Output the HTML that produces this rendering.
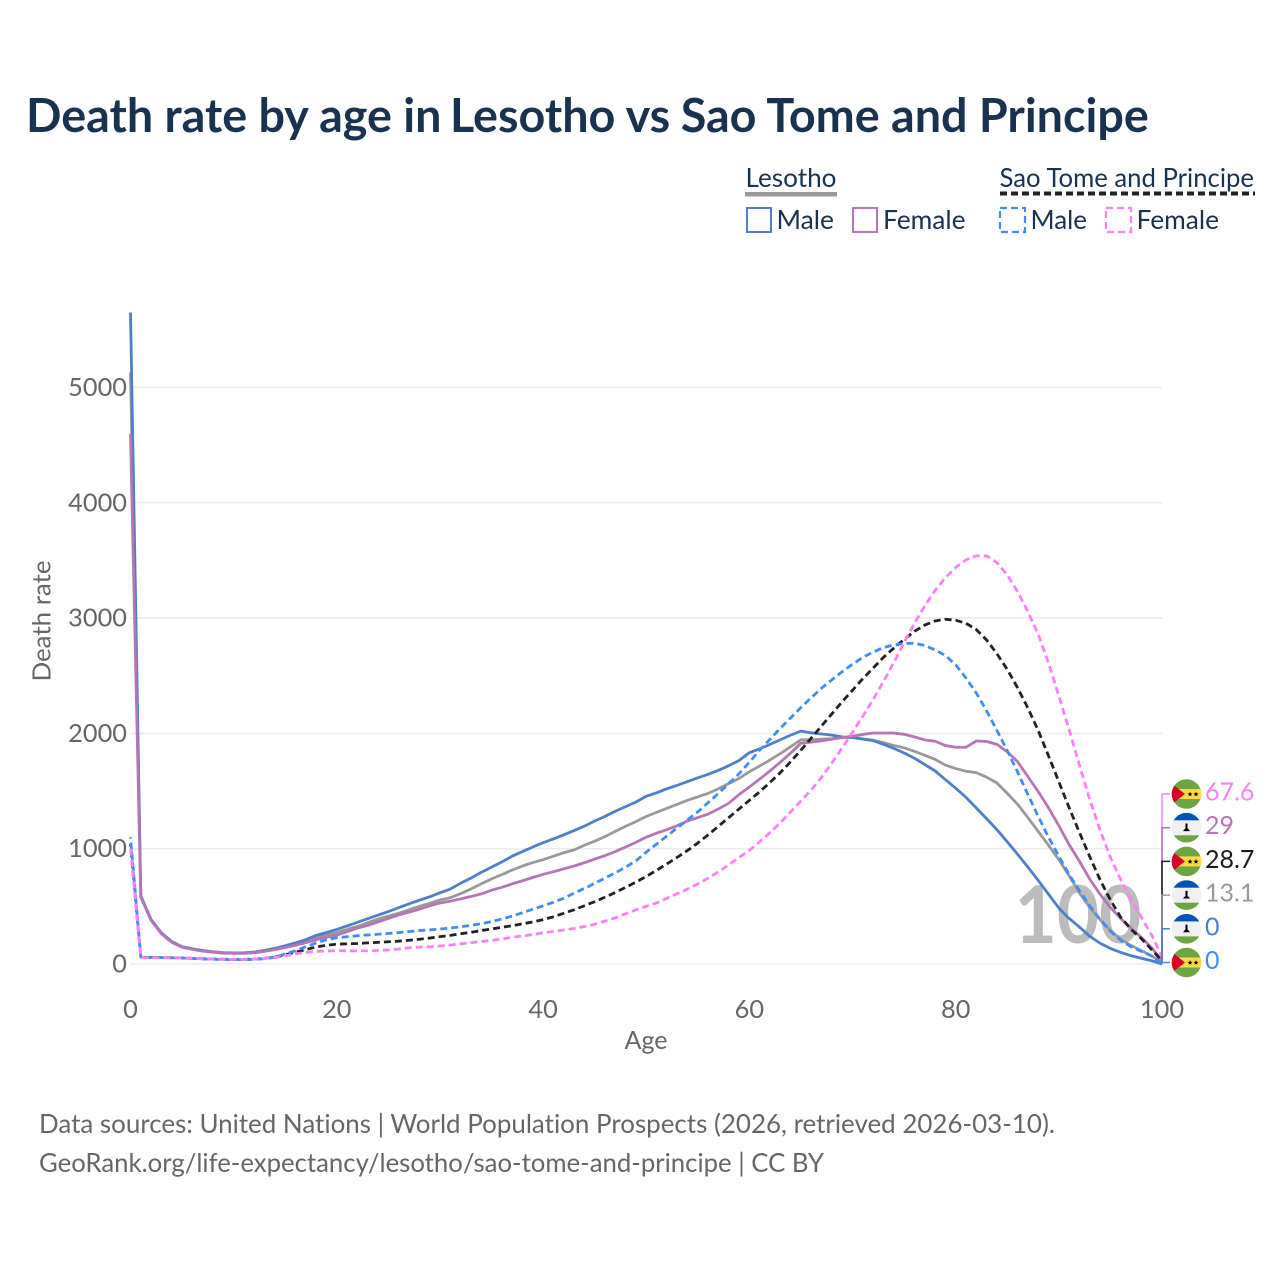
<!DOCTYPE html>
<html lang="en">
<head>
<meta charset="utf-8">
<title>Death rate by age in Lesotho vs Sao Tome and Principe</title>
<style>
html,body{margin:0;padding:0;background:#fff;}
svg{display:block;font-family:"Lato","Liberation Sans",sans-serif;font-variant-ligatures:none;}
</style>
</head>
<body>
<svg id="chart" xmlns="http://www.w3.org/2000/svg" width="1280" height="1280" viewBox="0 0 1280 1280">
  <defs>
    <clipPath id="flag-clip"><circle cx="0" cy="0" r="14.8"/></clipPath>
    <symbol id="flag-stp" overflow="visible" viewBox="-15 -15 30 30" width="30" height="30">
      <g clip-path="url(#flag-clip)">
        <rect x="-15" y="-15" width="30" height="30" fill="#6da544"/>
        <rect x="-15" y="-5" width="30" height="10" fill="#ffda44"/>
        <polygon points="-15,-10.5 -1.5,0 -15,10.5" fill="#d80027"/>
        <polygon points="3.5,-2.4 4.2,-0.6 6,-0.6 4.6,0.6 5.1,2.4 3.5,1.3 1.9,2.4 2.4,0.6 1,-0.6 2.8,-0.6" fill="#000"/>
        <polygon points="9.5,-2.4 10.2,-0.6 12,-0.6 10.6,0.6 11.1,2.4 9.5,1.3 7.9,2.4 8.4,0.6 7,-0.6 8.8,-0.6" fill="#000"/>
      </g>
    </symbol>
    <symbol id="flag-lesotho" overflow="visible" viewBox="-15 -15 30 30" width="30" height="30">
      <g clip-path="url(#flag-clip)">
        <rect x="-15" y="-15" width="30" height="30" fill="#f0f0f0"/>
        <rect x="-15" y="-15" width="30" height="7.6" fill="#0052b4"/>
        <rect x="-15" y="7.6" width="30" height="8" fill="#6da544"/>
        <path d="M-1,-4.2 H1 V0.6 L3.6,3.4 H-3.6 L-1,0.6 Z" fill="#000"/>
      </g>
    </symbol>
  </defs>

  <text y="132" font-size="46.7" font-weight="700" fill="#18324f"><tspan x="26">Death rate by age in </tspan><tspan x="450">Lesotho vs </tspan><tspan x="680.7">Sao Tome and Principe</tspan></text>

  <g>
    <g>
      <text x="745.5" y="187" font-size="26" fill="#18324f" textLength="91" lengthAdjust="spacingAndGlyphs">Lesotho</text>
      <rect x="745" y="192" width="92" height="4.5" fill="#999"/>
      <rect x="747" y="208" width="24" height="24" fill="none" stroke="#4e7fc8" stroke-width="2"/>
      <text x="776.5" y="229" font-size="26" fill="#18324f" textLength="57.5" lengthAdjust="spacingAndGlyphs">Male</text>
      <rect x="853" y="208" width="24" height="24" fill="none" stroke="#b576b3" stroke-width="2"/>
      <text x="883" y="229" font-size="26" fill="#18324f" textLength="82.5" lengthAdjust="spacingAndGlyphs">Female</text>
    </g>
    <g>
      <text x="999.5" y="187" font-size="26" fill="#18324f" textLength="254.5" lengthAdjust="spacingAndGlyphs">Sao Tome and Principe</text>
      <line x1="1000" y1="193.5" x2="1255" y2="193.5" stroke="#222" stroke-width="4" stroke-dasharray="7 4"/>
      <rect x="1000" y="208" width="25" height="24" fill="none" stroke="#3f8cff" stroke-width="2.2" stroke-dasharray="7 4"/>
      <text x="1030.5" y="229" font-size="26" fill="#18324f" textLength="56.5" lengthAdjust="spacingAndGlyphs">Male</text>
      <rect x="1106" y="208" width="25" height="24" fill="none" stroke="#ff80f4" stroke-width="2.2" stroke-dasharray="7 4"/>
      <text x="1136.5" y="229" font-size="26" fill="#18324f" textLength="82.5" lengthAdjust="spacingAndGlyphs">Female</text>
    </g>
  </g>

  <g id="grid"></g>
  <text x="1078" y="943" font-size="80" font-weight="700" fill="#bcbcbc" text-anchor="middle" textLength="127" lengthAdjust="spacingAndGlyphs">100</text>
  <g id="y-ticks"></g>
  <g id="x-ticks"></g>
  <text x="646" y="1049" font-size="25" fill="#666" text-anchor="middle" textLength="43" lengthAdjust="spacingAndGlyphs">Age</text>
  <text transform="translate(50.5,621) rotate(-90)" font-size="25" fill="#666" text-anchor="middle" textLength="121" lengthAdjust="spacingAndGlyphs">Death rate</text>
  <g id="lines"></g>
  <g id="end-labels"></g>

  <text x="39" y="1133" font-size="26" fill="#666" textLength="1016" lengthAdjust="spacingAndGlyphs">Data sources: United Nations | World Population Prospects (2026, retrieved 2026-03-10).</text>
  <text x="39" y="1172" font-size="26" fill="#666" textLength="785" lengthAdjust="spacingAndGlyphs">GeoRank.org/life-expectancy/lesotho/sao-tome-and-principe | CC BY</text>
</svg>
<script>
const xTickLabels = [0, 20, 40, 60, 80, 100];
const yTickLabels = [0, 1000, 2000, 3000, 4000, 5000];

const lesothoBoth = [5130,585,380,265,192,148,130,115,104,97,94,95,102,115,132,152,172,197,228,252,272,
300,325,358,390,415,440,470,500,525,555,575,610,650,695,738,775,815,850,880,
905,935,965,990,1030,1065,1105,1150,1195,1235,1280,1315,1350,1385,1420,1450,1480,1520,1565,1610,
1668,1717,1770,1825,1885,1945,1945,1950,1955,1962,1965,1952,1940,1920,1895,1875,1845,1810,1775,1725,
1695,1672,1660,1620,1570,1480,1385,1270,1150,1030,905,765,615,490,385,290,215,160,115,70,13.1];

const lesothoMale = [5650,590,385,270,195,150,132,117,106,99,96,97,104,118,136,158,183,212,248,273,300,
330,362,393,424,455,488,522,553,583,617,650,700,745,795,840,885,935,975,1015,
1052,1085,1120,1157,1195,1240,1280,1325,1365,1405,1455,1485,1520,1550,1582,1615,1645,1680,1720,1765,
1833,1866,1905,1945,1985,2020,2005,1995,1985,1970,1965,1950,1937,1905,1870,1830,1785,1730,1675,1600,
1525,1445,1353,1260,1165,1060,952,840,725,605,485,395,320,240,180,135,100,72,50,28,0];

const lesothoFemale = [4600,580,378,262,188,145,127,112,102,95,92,92,98,110,125,143,163,185,210,232,250,
280,312,335,365,395,425,450,475,505,529,545,565,585,608,640,665,695,722,750,
778,800,825,850,878,910,940,975,1015,1055,1100,1135,1165,1200,1240,1270,1300,1345,1395,1470,
1535,1604,1675,1750,1830,1915,1925,1935,1950,1965,1975,1990,2003,2003,2003,1992,1970,1943,1932,1895,
1880,1880,1935,1930,1905,1840,1755,1625,1495,1355,1200,1035,890,735,605,490,395,310,230,140,29];

const saoTomeBoth = [1040,58,57,56,54,52,49,46,43,41,40,40,43,49,60,80,103,125,148,162,172,
175,178,183,188,193,198,206,215,225,237,248,262,275,290,303,318,332,348,365,
385,410,440,470,505,540,580,620,665,710,760,812,868,925,985,1050,1120,1195,1270,1345,
1420,1494,1575,1660,1755,1855,1960,2065,2170,2275,2375,2475,2567,2660,2740,2815,2885,2940,2975,2990,
2982,2955,2900,2810,2690,2555,2395,2220,2025,1805,1580,1355,1140,930,730,555,405,300,220,125,28.7];

const saoTomeMale = [1100,60,58,56,54,52,48,44,41,39,38,38,40,46,58,87,115,150,183,210,228,
237,245,252,258,265,272,282,290,296,303,312,322,335,350,368,390,415,445,475,
505,535,570,615,655,700,745,790,840,895,970,1040,1110,1180,1250,1320,1400,1480,1565,1650,
1750,1855,1950,2045,2135,2225,2310,2393,2465,2535,2600,2660,2705,2745,2767,2780,2782,2762,2725,2675,
2595,2480,2350,2195,2025,1850,1665,1470,1280,1100,935,775,635,505,385,285,205,150,110,70,0];

const saoTomeFemale = [1000,56,55,54,53,51,49,46,43,41,40,40,43,48,56,72,88,100,110,113,115,
115,113,115,118,122,130,140,146,150,156,165,175,185,195,205,217,232,243,255,
270,282,295,308,325,345,372,400,435,470,500,530,570,610,650,695,745,800,860,925,
985,1061,1140,1225,1320,1415,1510,1620,1745,1875,2010,2150,2295,2450,2615,2790,2955,3105,3240,3350,
3440,3505,3540,3540,3480,3375,3230,3055,2860,2610,2325,2030,1725,1425,1160,925,730,560,405,250,67.6];

const SVG_NS = 'http://www.w3.org/2000/svg';
const X_LEFT = 130.5, X_RIGHT = 1162, Y_ZERO = 964, Y_5000 = 387.5;
const xScale = function (age) { return X_LEFT + age / 100 * (X_RIGHT - X_LEFT); };
const yScale = function (v) { return Y_ZERO + v / 5000 * (Y_5000 - Y_ZERO); };

function make(tag, parent) {
  const el = document.createElementNS(SVG_NS, tag);
  parent.appendChild(el);
  return el;
}

const gridGroup = document.getElementById('grid');
const yTickGroup = document.getElementById('y-ticks');
const xTickGroup = document.getElementById('x-ticks');
const lineGroup = document.getElementById('lines');
const labelGroup = document.getElementById('end-labels');

yTickLabels.forEach(function (t) {
  const g = make('line', gridGroup);
  
  
  g.setAttribute('x1', X_LEFT);
  g.setAttribute('x2', X_RIGHT);
  g.setAttribute('y1', yScale(t));
  g.setAttribute('y2', yScale(t));
  g.setAttribute('stroke', '#ebebeb');
  g.setAttribute('stroke-width', '1.5');

  const s = make('text', yTickGroup);
  
  
  s.setAttribute('x', 127);
  s.setAttribute('y', yScale(t) + 8.5);
  s.setAttribute('text-anchor', 'end');
  s.setAttribute('font-size', '25');
  s.setAttribute('fill', '#666');
  s.setAttribute('textLength', String(t).length * 14.7);
  s.setAttribute('lengthAdjust', 'spacingAndGlyphs');
  s.textContent = t;
});

xTickLabels.forEach(function (t) {
  const s = make('text', xTickGroup);
  
  
  s.setAttribute('x', xScale(t));
  s.setAttribute('y', 1018);
  s.setAttribute('text-anchor', 'middle');
  s.setAttribute('font-size', '25');
  s.setAttribute('fill', '#666');
  s.setAttribute('textLength', String(t).length * 14.7);
  s.setAttribute('lengthAdjust', 'spacingAndGlyphs');
  s.textContent = t;
});

const seriesList = [
  { name: 'lesotho-both', values: lesothoBoth, color: '#999999', dash: '', offset: 0, flag: 'flag-lesotho' },
  { name: 'lesotho-male', values: lesothoMale, color: '#4e7fc8', dash: '', offset: 0, flag: 'flag-lesotho' },
  { name: 'lesotho-female', values: lesothoFemale, color: '#b576b3', dash: '', offset: 0, flag: 'flag-lesotho' },
  { name: 'sao-tome-both', values: saoTomeBoth, color: '#222222', dash: '7 4', offset: 4.6, flag: 'flag-stp' },
  { name: 'sao-tome-male', values: saoTomeMale, color: '#3f8cff', dash: '7 4', offset: 5.5, flag: 'flag-stp' },
  { name: 'sao-tome-female', values: saoTomeFemale, color: '#ff80f4', dash: '7 4', offset: 0, flag: 'flag-stp' }
];

const STACK_BOTTOM = 962.5, STACK_STEP = 33.7;
const stacked = seriesList.slice().sort(function (a, b) {
  const d = a.values[100] - b.values[100];
  if (d !== 0) return d;
  return a.name === 'sao-tome-male' ? -1 : 1;
});

stacked.slice().reverse().forEach(function (s) {
  const labelY = STACK_BOTTOM - stacked.indexOf(s) * STACK_STEP;
  const c = make('path', labelGroup);
  
  
  c.setAttribute('d', 'M' + X_RIGHT + ' ' + yScale(s.values[100]) + ' V' + labelY + ' H1170');
  c.setAttribute('fill', 'none');
  c.setAttribute('stroke', s.color);
  c.setAttribute('stroke-width', '1.5');
});

seriesList.forEach(function (s) {
  const p = make('path', lineGroup);
  
  
  p.setAttribute('d', s.values.map(function (v, i) {
    return (i ? 'L' : 'M') + xScale(i).toFixed(2) + ' ' + yScale(v).toFixed(2);
  }).join(' '));
  p.setAttribute('fill', 'none');
  p.setAttribute('stroke', s.color);
  p.setAttribute('stroke-width', '2.8');
  p.setAttribute('stroke-linejoin', 'round');
  if (s.dash) p.setAttribute('stroke-dasharray', s.dash);
  if (s.offset) p.setAttribute('stroke-dashoffset', s.offset);
});

stacked.forEach(function (s, idx) {
  const labelY = STACK_BOTTOM - idx * STACK_STEP;
  const f = make('use', labelGroup);
  
  
  f.setAttribute('href', '#' + s.flag);
  f.setAttribute('x', 1171.5);
  f.setAttribute('y', labelY - 15);
  f.setAttribute('width', 30);
  f.setAttribute('height', 30);

  const t = make('text', labelGroup);
  
  
  t.setAttribute('x', 1205);
  t.setAttribute('y', labelY + 6.5);
  t.setAttribute('font-size', '25');
  t.setAttribute('fill', s.color === '#222222' ? '#1a1a1a' : s.color);
  t.textContent = s.values[100];
});
</script>
</body>
</html>
